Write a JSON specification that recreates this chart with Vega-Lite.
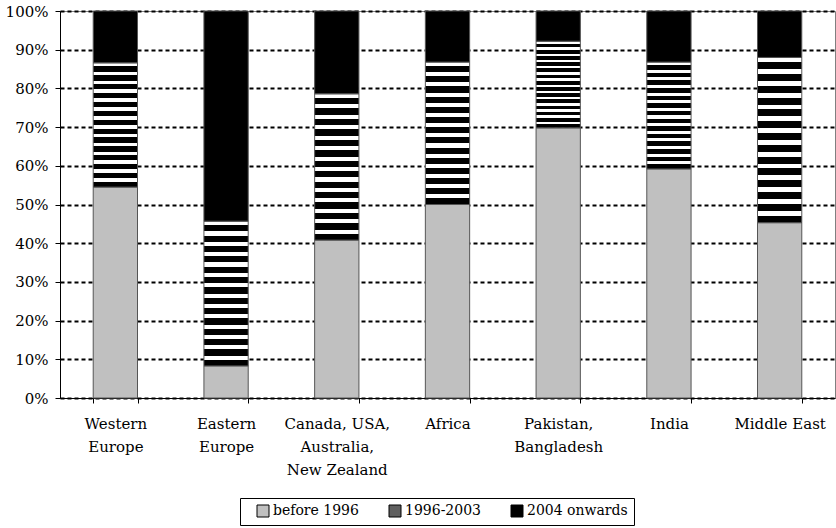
{
  "$schema": "https://vega.github.io/schema/vega-lite/v6.json",
  "width": 775,
  "height": 387,
  "autosize": "none",
  "padding": {"left": 60, "top": 11, "right": 1, "bottom": 130},
  "background": "white",
  "config": {
    "font": "DejaVu Serif",
    "view": {"stroke": "#808080", "strokeWidth": 1}
  },
  "data": {
    "values": [
      {"region": "Western|Europe", "period": "before 1996", "k": 0, "share": 54.5},
      {"region": "Western|Europe", "period": "1996-2003", "k": 1, "share": 32.1},
      {"region": "Western|Europe", "period": "2004 onwards", "k": 2, "share": 13.4},
      {"region": "Eastern|Europe", "period": "before 1996", "k": 0, "share": 8.3},
      {"region": "Eastern|Europe", "period": "1996-2003", "k": 1, "share": 37.4},
      {"region": "Eastern|Europe", "period": "2004 onwards", "k": 2, "share": 54.3},
      {"region": "Canada, USA,|Australia,|New Zealand", "period": "before 1996", "k": 0, "share": 40.8},
      {"region": "Canada, USA,|Australia,|New Zealand", "period": "1996-2003", "k": 1, "share": 37.8},
      {"region": "Canada, USA,|Australia,|New Zealand", "period": "2004 onwards", "k": 2, "share": 21.4},
      {"region": "Africa", "period": "before 1996", "k": 0, "share": 50.0},
      {"region": "Africa", "period": "1996-2003", "k": 1, "share": 36.8},
      {"region": "Africa", "period": "2004 onwards", "k": 2, "share": 13.2},
      {"region": "Pakistan,|Bangladesh", "period": "before 1996", "k": 0, "share": 69.8},
      {"region": "Pakistan,|Bangladesh", "period": "1996-2003", "k": 1, "share": 22.4},
      {"region": "Pakistan,|Bangladesh", "period": "2004 onwards", "k": 2, "share": 7.8},
      {"region": "India", "period": "before 1996", "k": 0, "share": 59.2},
      {"region": "India", "period": "1996-2003", "k": 1, "share": 27.6},
      {"region": "India", "period": "2004 onwards", "k": 2, "share": 13.2},
      {"region": "Middle East", "period": "before 1996", "k": 0, "share": 45.3},
      {"region": "Middle East", "period": "1996-2003", "k": 1, "share": 42.7},
      {"region": "Middle East", "period": "2004 onwards", "k": 2, "share": 12.0}
    ]
  },
  "mark": {"type": "bar", "stroke": "#555555", "strokeWidth": 1},
  "encoding": {
    "x": {
      "field": "region",
      "type": "nominal",
      "sort": null,
      "scale": {"paddingInner": 0.6, "paddingOuter": 0.3},
      "axis": {
        "title": null,
        "labelAngle": 0,
        "labelExpr": "split(datum.label, '|')",
        "labelFontSize": 15,
        "labelColor": "black",
        "labelLineHeight": 23,
        "labelPadding": 13,
        "labelBaseline": "top",
        "tickBand": "extent",
        "tickColor": "black",
        "tickSize": 5,
        "domainColor": "black",
        "domainWidth": 1,
        "grid": false
      }
    },
    "y": {
      "field": "share",
      "type": "quantitative",
      "stack": "normalize",
      "scale": {"domain": [0, 1]},
      "axis": {
        "title": null,
        "format": ".0%",
        "values": [0, 0.1, 0.2, 0.3, 0.4, 0.5, 0.6, 0.7, 0.8, 0.9, 1],
        "labelFontSize": 15,
        "labelColor": "black",
        "labelPadding": 7,
        "tickColor": "black",
        "tickSize": 5,
        "domainColor": "black",
        "grid": true,
        "gridColor": "black",
        "gridDash": [4, 3],
        "gridWidth": 2
      }
    },
    "order": {"field": "k", "type": "quantitative", "sort": "ascending"},
    "fill": {
      "condition": {
        "test": "datum.period === '1996-2003'",
        "value": {
          "gradient": "linear",
          "x1": 0, "y1": 0, "x2": 0, "y2": 1,
          "stops": [
            {"offset": 0, "color": "white"}, {"offset": 0.0286, "color": "white"},
            {"offset": 0.0286, "color": "black"}, {"offset": 0.0714, "color": "black"},
            {"offset": 0.0714, "color": "white"}, {"offset": 0.1, "color": "white"},
            {"offset": 0.1, "color": "black"}, {"offset": 0.1429, "color": "black"},
            {"offset": 0.1429, "color": "white"}, {"offset": 0.1714, "color": "white"},
            {"offset": 0.1714, "color": "black"}, {"offset": 0.2143, "color": "black"},
            {"offset": 0.2143, "color": "white"}, {"offset": 0.2429, "color": "white"},
            {"offset": 0.2429, "color": "black"}, {"offset": 0.2857, "color": "black"},
            {"offset": 0.2857, "color": "white"}, {"offset": 0.3143, "color": "white"},
            {"offset": 0.3143, "color": "black"}, {"offset": 0.3571, "color": "black"},
            {"offset": 0.3571, "color": "white"}, {"offset": 0.3857, "color": "white"},
            {"offset": 0.3857, "color": "black"}, {"offset": 0.4286, "color": "black"},
            {"offset": 0.4286, "color": "white"}, {"offset": 0.4571, "color": "white"},
            {"offset": 0.4571, "color": "black"}, {"offset": 0.5, "color": "black"},
            {"offset": 0.5, "color": "white"}, {"offset": 0.5286, "color": "white"},
            {"offset": 0.5286, "color": "black"}, {"offset": 0.5714, "color": "black"},
            {"offset": 0.5714, "color": "white"}, {"offset": 0.6, "color": "white"},
            {"offset": 0.6, "color": "black"}, {"offset": 0.6429, "color": "black"},
            {"offset": 0.6429, "color": "white"}, {"offset": 0.6714, "color": "white"},
            {"offset": 0.6714, "color": "black"}, {"offset": 0.7143, "color": "black"},
            {"offset": 0.7143, "color": "white"}, {"offset": 0.7429, "color": "white"},
            {"offset": 0.7429, "color": "black"}, {"offset": 0.7857, "color": "black"},
            {"offset": 0.7857, "color": "white"}, {"offset": 0.8143, "color": "white"},
            {"offset": 0.8143, "color": "black"}, {"offset": 0.8571, "color": "black"},
            {"offset": 0.8571, "color": "white"}, {"offset": 0.8857, "color": "white"},
            {"offset": 0.8857, "color": "black"}, {"offset": 0.9286, "color": "black"},
            {"offset": 0.9286, "color": "white"}, {"offset": 0.9571, "color": "white"},
            {"offset": 0.9571, "color": "black"}, {"offset": 1, "color": "black"}
          ]
        }
      },
      "field": "period",
      "type": "nominal",
      "sort": ["before 1996", "1996-2003", "2004 onwards"],
      "scale": {
        "domain": ["before 1996", "1996-2003", "2004 onwards"],
        "range": ["#c0c0c0", "#606060", "#000000"]
      },
      "legend": {
        "title": null,
        "orient": "none",
        "legendX": 180,
        "legendY": 487,
        "direction": "horizontal",
        "symbolType": "square",
        "symbolSize": 144,
        "symbolStrokeColor": "black",
        "symbolStrokeWidth": 1,
        "symbolOffset": 10,
        "labelFontSize": 14,
        "labelColor": "black",
        "labelOffset": 3,
        "columnPadding": 19,
        "padding": 6,
        "strokeColor": "black",
        "fillColor": "white"
      }
    }
  }
}
